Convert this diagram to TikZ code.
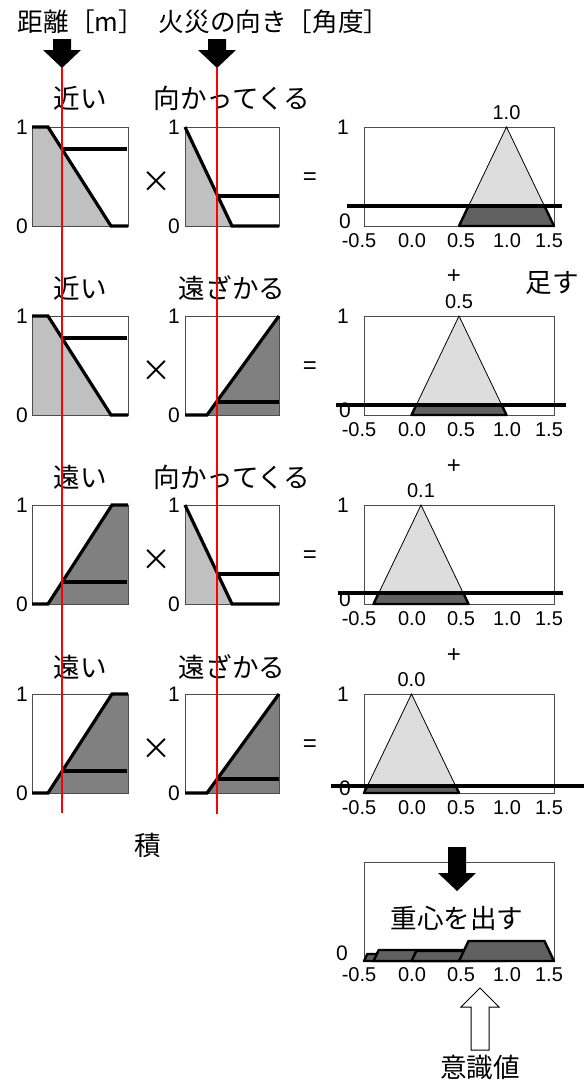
\documentclass[tikz,border=0pt]{standalone}
\usepackage{fontspec}
\setmainfont{Liberation Sans}
\newfontfamily\jpfont{Noto Sans CJK JP}
\usetikzlibrary{positioning}
\definecolor{nearfill}{RGB}{192,192,192}
\definecolor{farfill}{RGB}{128,128,128}
\definecolor{trifill}{RGB}{221,221,221}
\definecolor{cutfill}{RGB}{96,96,96}
\definecolor{probered}{RGB}{255,0,0}
\tikzset{
  frame/.style={draw=black!70, line width=0.5pt},
  mfcurve/.style={line width=1.6pt},
  cutline/.style={line width=1.6pt},
  probe/.style={draw=probered, line width=0.6pt},
  tri/.style={fill=trifill, draw=black, line width=0.4pt},
  clipped/.style={fill=cutfill, draw=black, line width=1.2pt, line join=round},
  setname/.style={font=\jpfont\fontsize{13.3}{15}\selectfont, inner sep=0pt},
  titlename/.style={font=\jpfont\fontsize{12.8}{14}\selectfont, inner sep=0pt},
  axnum/.style={font=\fontsize{10.5}{12}\selectfont, inner sep=0pt},
  ticknum/.style={font=\fontsize{10}{12}\selectfont, inner sep=0pt},
  opsign/.style={font=\fontsize{12}{13}\selectfont, inner sep=0pt},
  pics/blockdown/.style={code={\fill (-9,0) -- (9,0) -- (9,#1) -- (19,#1) -- (0,#1+18) -- (-19,#1) -- (-9,#1) -- cycle;}},
  pics/blockup/.style={code={\draw[fill=white, line width=0.5pt] (0,0) -- (19,19) -- (9,19) -- (9,#1) -- (-9,#1) -- (-9,19) -- (-19,19) -- cycle;}},
}

\begin{document}
\begin{tikzpicture}[x=0.5pt, y=-0.5pt]
  \useasboundingbox (0,0) rectangle (588,1082);

  % inputs
  \node[titlename] (distTitle) at (81,22) {距離［m］};
  \node[titlename] (angTitle) at (274,22) {火災の向き［角度］};
  \pic (distArr) at (62,39) {blockdown=11};
  \pic (angArr) at (217,39) {blockdown=11};

  % row 1: near x toward
  \fill[nearfill] (32,226) -- (32,127) -- (48,127) -- (111,226) -- cycle;
  \draw[frame] (32,127) rectangle (128,226);
  \draw[mfcurve] (32,127) -- (48,127) -- (111,226) -- (128,226);
  \draw[cutline] (62,149) -- (127,149);
  \fill[nearfill] (185,226) -- (185,127) -- (232,226) -- cycle;
  \draw[frame] (185,127) rectangle (279,226);
  \draw[mfcurve] (185,127) -- (232,226) -- (279,226);
  \draw[cutline] (217,196) -- (279,196);
  \draw[frame] (364,127) rectangle (554,226);
  \draw[tri] (459,226) -- (506.5,127) -- (554,226) -- cycle;
  \draw[clipped] (459,226) -- (468.5,206) -- (544.5,206) -- (554,226) -- cycle;
  \draw[cutline] (347,206) -- (562,206);
  \coordinate (pk0) at (506.5,127);
  \node[ticknum, above=3.5pt of pk0] (pkl0) {1.0};
  \node[setname] (lblA0) at (80,98) {近い};
  \node[setname] (lblB0) at (232,98) {向かってくる};

  % row 2: near x away
  \begin{scope}[shift={(0,189)}]
    \fill[nearfill] (32,226) -- (32,127) -- (48,127) -- (111,226) -- cycle;
    \draw[frame] (32,127) rectangle (128,226);
    \draw[mfcurve] (32,127) -- (48,127) -- (111,226) -- (128,226);
    \draw[cutline] (62,149) -- (127,149);
    \fill[farfill] (207,226) -- (279,127) -- (279,226) -- cycle;
    \draw[frame] (185,127) rectangle (279,226);
    \draw[mfcurve] (185,226) -- (207,226) -- (279,127);
    \draw[cutline] (217,213) -- (279,213);
    \draw[frame] (364,127) rectangle (554,226);
    \draw[tri] (411.5,226) -- (459,127) -- (506.5,226) -- cycle;
    \draw[clipped] (411.5,226) -- (416.25,216) -- (501.75,216) -- (506.5,226) -- cycle;
    \draw[cutline] (336,216) -- (566,216);
    \coordinate (pk1) at (459,127);
    \node[ticknum, above=3.5pt of pk1] (pkl1) {0.5};
    \node[setname] (lblA1) at (80,99) {近い};
    \node[setname] (lblB1) at (232,99) {遠ざかる};
    \node[opsign] (plus1) at (454,88) {+};
    \node[setname] (sumText) at (552,94) {足す};
  \end{scope}

  % row 3: far x toward
  \begin{scope}[shift={(0,378)}]
    \fill[farfill] (48,226) -- (112,127) -- (128,127) -- (128,226) -- cycle;
    \draw[frame] (32,127) rectangle (128,226);
    \draw[mfcurve] (32,226) -- (48,226) -- (112,127) -- (128,127);
    \draw[cutline] (62,204) -- (127,204);
    \fill[nearfill] (185,226) -- (185,127) -- (232,226) -- cycle;
    \draw[frame] (185,127) rectangle (279,226);
    \draw[mfcurve] (185,127) -- (232,226) -- (279,226);
    \draw[cutline] (217,196) -- (279,196);
    \draw[frame] (364,127) rectangle (554,226);
    \draw[tri] (373.5,226) -- (421,127) -- (468.5,226) -- cycle;
    \draw[clipped] (373.5,226) -- (378.7,215) -- (463.3,215) -- (468.5,226) -- cycle;
    \draw[cutline] (338,215) -- (563,215);
    \coordinate (pk2) at (421,127);
    \node[ticknum, above=3.5pt of pk2] (pkl2) {0.1};
    \node[setname] (lblA2) at (80,99) {遠い};
    \node[setname] (lblB2) at (232,99) {向かってくる};
    \node[opsign] (plus2) at (454,89) {+};
  \end{scope}

  % row 4: far x away
  \begin{scope}[shift={(0,567)}]
    \fill[farfill] (48,226) -- (112,127) -- (128,127) -- (128,226) -- cycle;
    \draw[frame] (32,127) rectangle (128,226);
    \draw[mfcurve] (32,226) -- (48,226) -- (112,127) -- (128,127);
    \draw[cutline] (62,204) -- (127,204);
    \fill[farfill] (207,226) -- (279,127) -- (279,226) -- cycle;
    \draw[frame] (185,127) rectangle (279,226);
    \draw[mfcurve] (185,226) -- (207,226) -- (279,127);
    \draw[cutline] (217,212) -- (279,212);
    \draw[frame] (364,127) rectangle (554,226);
    \draw[tri] (364,226) -- (411.5,127) -- (459,226) -- cycle;
    \draw[clipped] (364,226) -- (367.3,219) -- (455.7,219) -- (459,226) -- cycle;
    \draw[cutline] (331,219) -- (584,219);
    \coordinate (pk3) at (411.5,127);
    \node[ticknum, above=3.5pt of pk3] (pkl3) {0.0};
    \node[setname] (lblA3) at (80,100) {遠い};
    \node[setname] (lblB3) at (232,100) {遠ざかる};
    \node[opsign] (plus3) at (454,89) {+};
  \end{scope}

  % numbers and operators for each row
  \foreach \r in {0,1,2,3}{
    \begin{scope}[shift={(0,189*\r)}]
      \node[axnum] (dOne\r) at (22,127) {1};
      \node[axnum] (dZero\r) at (22,226) {0};
      \node[axnum] (aOne\r) at (174,127) {1};
      \node[axnum] (aZero\r) at (174,226) {0};
      \node[axnum] (rOne\r) at (343,127) {1};
      \node[axnum] (rZero\r) at (345,221) {0};
      \node[setname, font=\jpfont\fontsize{15}{16}\selectfont] (times\r) at (156,182) {×};
      \node[opsign] (eq\r) at (310,179) {=};
      \foreach \v/\x [count=\i] in {-0.5/359, 0.0/412, 0.5/461, 1.0/507, 1.5/549}
        \node[ticknum] (tick\r\i) at (\x,241) {\v};
    \end{scope}
  }

  % red probe lines
  \coordinate (distTip) at (62,68);
  \coordinate (distEnd) at (62,813);
  \coordinate (angTip) at (217,68);
  \coordinate (angEnd) at (217,814);
  \draw[probe] (distTip) -- (distEnd) (angTip) -- (angEnd);

  \node[setname] (prodText) at (148,845) {積};

  % defuzzification
  \draw[frame] (364,862) rectangle (554,961);
  \draw[clipped] (364,961) -- (367.3,954) -- (455.7,954) -- (459,961) -- cycle;
  \draw[clipped] (373.5,961) -- (378.7,950) -- (463.3,950) -- (468.5,961) -- cycle;
  \draw[clipped] (411.5,961) -- (416.25,951) -- (501.75,951) -- (506.5,961) -- cycle;
  \draw[clipped] (459,961) -- (468.5,941) -- (544.5,941) -- (554,961) -- cycle;
  \pic (sumArr) at (457,847) {blockdown=26};
  \node[setname] (cogText) at (457,918) {重心を出す};
  \node[axnum] (cZero) at (342,953) {0};
  \foreach \v/\x [count=\i] in {-0.5/359, 0.0/412, 0.5/461, 1.0/507, 1.5/549}
    \node[ticknum] (ctick\i) at (\x,975) {\v};
  \pic (outArr) at (480,988) {blockup=62};
  \node[setname] (outText) at (480,1067) {意識値};
\end{tikzpicture}
\end{document}
